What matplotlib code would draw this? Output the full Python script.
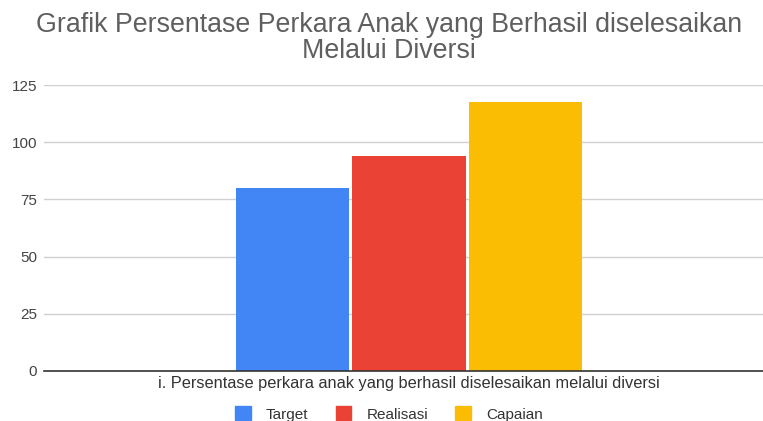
import matplotlib.pyplot as plt
from matplotlib.patches import Patch

# data
category = 'i. Persentase perkara anak yang berhasil diselesaikan melalui diversi'
series = ['Target', 'Realisasi', 'Capaian']
values = [80, 94, 117.5]
colours = ['#4285F4', '#EA4335', '#FBBC04']
y_ticks = [0, 25, 50, 75, 100, 125]

plt.rcParams['font.family'] = ['Liberation Sans', 'DejaVu Sans']

W, H = 763, 421
fig = plt.figure(figsize=(W / 100, H / 100), dpi=100)

# plot area in pixels: left 44, right ~774 (runs past the figure edge), y 0 at 370.7, 125 at 85.3
left, right, bottom, top = 44, 774, 370.7, 85.3
ax = fig.add_axes([left / W, (H - bottom) / H, (right - left) / W, (bottom - top) / H])

offsets = [-0.32, 0.0, 0.32]
for name, val, col, off in zip(series, values, colours, offsets):
    ax.bar(off, val, width=0.31, color=col, label=name, zorder=3)

ax.set_xlim(-1, 1)
ax.set_ylim(0, 125)
ax.set_yticks(y_ticks)
ax.set_yticklabels([str(t) for t in y_ticks])
ax.set_xticks([0])
ax.set_xticklabels([category])
ax.tick_params(axis='y', length=0, pad=5, labelsize=11, labelcolor='#444444')
ax.tick_params(axis='x', length=0, pad=4, labelsize=11.8, labelcolor='#333333')

ax.grid(axis='y', color='#d0d0d0', linewidth=1, zorder=0)
for side in ['top', 'right', 'left']:
    ax.spines[side].set_visible(False)
ax.spines['bottom'].set_color('#333333')
ax.spines['bottom'].set_linewidth(1.2)
ax.spines['bottom'].set_zorder(4)

fig.text(389 / W, 1 - 38 / H, 'Grafik Persentase Perkara Anak yang Berhasil diselesaikan\nMelalui Diversi',
         ha='center', va='center', fontsize=19.3, color='#5f5f5f', linespacing=1.0)

handles = [Patch(color=c, label=s) for s, c in zip(series, colours)]
fig.legend(handles=handles, loc='center', bbox_to_anchor=(389 / W, 1 - 414 / H), ncol=3, frameon=False,
           fontsize=11, handlelength=1.0, handleheight=1.0, handletextpad=1.0, columnspacing=1.8,
           labelcolor='#333333', borderpad=0)

fig.savefig('out.png', dpi=100)
